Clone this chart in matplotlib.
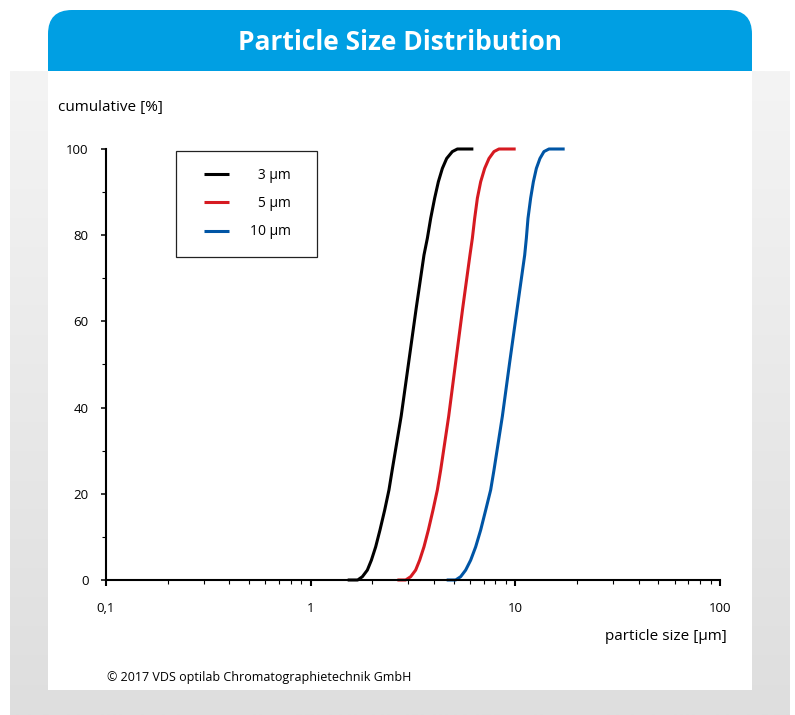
import matplotlib
matplotlib.use("Agg")
import matplotlib.pyplot as plt
import numpy as np
from matplotlib.colors import LinearSegmentedColormap
from matplotlib.patches import FancyBboxPatch, Rectangle
from matplotlib.ticker import FixedLocator, FuncFormatter, LogLocator, NullFormatter

plt.rcParams["font.family"] = ["Open Sans", "DejaVu Sans"]

# (particle size in um, cumulative %)
size_3um = [1.516, 1.697, 1.789, 1.892, 1.980, 2.078, 2.181, 2.299, 2.413, 2.502, 2.768,
            3.012, 3.277, 3.578, 3.717, 3.858, 4.035, 4.206, 4.400, 4.618, 4.923, 5.211, 6.236]
cum_3um = [0, 0, 0.77, 2.3, 4.6, 7.7, 11.6, 16.2, 20.9, 25.5, 38,
           50.5, 63, 75.4, 79.3, 83.9, 88.6, 92.4, 95.5, 97.8, 99.4, 100, 100]

size_5um = [2.652, 2.912, 3.081, 3.258, 3.408, 3.578, 3.759, 3.959, 4.159, 4.317, 4.725,
            5.110, 5.529, 6.002, 6.167, 6.328, 6.525, 6.771, 7.082, 7.434, 7.864, 8.318, 10.04]
cum_5um = [0, 0, 0.77, 2.3, 4.6, 7.7, 11.6, 16.2, 20.9, 25.5, 38,
           50.5, 63, 75.4, 79.3, 83.9, 88.6, 92.4, 95.5, 97.8, 99.4, 100, 100]

size_10um = [4.618, 5.110, 5.406, 5.719, 6.050, 6.401, 6.771, 7.162, 7.577, 7.864, 8.643,
             9.383, 10.21, 11.11, 11.32, 11.53, 11.88, 12.25, 12.67, 13.19, 13.80, 14.60, 17.42]
cum_10um = [0, 0, 0.77, 2.3, 4.6, 7.7, 11.6, 16.2, 20.9, 25.5, 38,
            50.5, 63, 75.4, 79.3, 83.9, 88.6, 92.4, 95.5, 97.8, 99.4, 100, 100]

series_labels = ["\u20073 \u00b5m", "\u20075 \u00b5m", "10 \u00b5m"]
series_colors = ["#000000", "#d61a21", "#0055a5"]

x_major = [0.1, 1, 10, 100]
y_major = [0, 20, 40, 60, 80, 100]
y_minor = [10, 30, 50, 70, 90]

W, H = 795, 715
fig = plt.figure(figsize=(W / 100, H / 100), dpi=100)
fig.patch.set_facecolor("white")

# background frame, drawn in pixel coordinates
bg = fig.add_axes([0, 0, 1, 1], zorder=0)
bg.set_xlim(0, W)
bg.set_ylim(H, 0)
bg.axis("off")
grad = np.linspace(0, 1, 256).reshape(-1, 1)
bg.imshow(grad, extent=(10, 790, 715, 71), aspect="auto", zorder=0,
          cmap=LinearSegmentedColormap.from_list("g", ["#f4f4f4", "#dedede"]))
bg.add_patch(FancyBboxPatch((48, 10), 704, 90, boxstyle="round,pad=0,rounding_size=24",
                            facecolor="#009fe3", edgecolor="none", zorder=1))
bg.add_patch(Rectangle((48, 71), 704, 619, facecolor="white", edgecolor="none", zorder=2))
bg.text(400, 42, "Particle Size Distribution", color="white", fontsize=19,
        fontweight="bold", ha="center", va="center", zorder=3)
bg.text(58, 108, "cumulative [%]", fontsize=11, ha="left", va="center", zorder=3)
bg.text(727, 636, "particle size [\u00b5m]", fontsize=11, ha="right", va="center", zorder=3)
bg.text(107, 678, "\u00a9 2017 VDS optilab Chromatographietechnik GmbH", fontsize=9,
        ha="left", va="center", zorder=3)

ax = fig.add_axes([106 / W, 1 - 580 / H, 614 / W, 431 / H], zorder=1)
ax.patch.set_alpha(0)

for xs, ys, lab, col in zip([size_3um, size_5um, size_10um],
                            [cum_3um, cum_5um, cum_10um],
                            series_labels, series_colors):
    ax.plot(xs, ys, color=col, lw=2.2, label=lab, clip_on=False,
            solid_capstyle="butt", solid_joinstyle="round")

ax.set_xscale("log")
ax.set_xlim(0.1, 100)
ax.set_ylim(0, 100)

for s in ["top", "right"]:
    ax.spines[s].set_visible(False)
for s in ["left", "bottom"]:
    ax.spines[s].set_linewidth(1.5)

ax.xaxis.set_major_locator(FixedLocator(x_major))
ax.xaxis.set_major_formatter(FuncFormatter(lambda v, p: ("%g" % v).replace(".", ",")))
ax.xaxis.set_minor_locator(LogLocator(base=10, subs=np.arange(2, 10)))
ax.xaxis.set_minor_formatter(NullFormatter())
ax.yaxis.set_major_locator(FixedLocator(y_major))
ax.yaxis.set_minor_locator(FixedLocator(y_minor))

ax.tick_params(axis="x", which="major", length=4, width=1.5, pad=12, labelsize=9.5)
ax.tick_params(axis="x", which="minor", length=3, width=0.8)
ax.tick_params(axis="y", which="major", length=3.6, width=1.1, pad=9, labelsize=9.5)
ax.tick_params(axis="y", which="minor", length=3, width=0.8)

# legend box
ax.add_patch(Rectangle((0.114, 0.749), 0.230, 0.246, transform=ax.transAxes,
                       facecolor="white", edgecolor="#222222", lw=0.9, zorder=3))
leg = ax.legend(loc="upper left", bbox_to_anchor=((204 - 106) / 614, (580 - 168) / 431),
                frameon=False, fontsize=10, handlelength=1.8, handletextpad=1.5,
                labelspacing=0.95, borderpad=0, borderaxespad=0)
leg.set_zorder(4)

fig.savefig("out.png", dpi=100)
